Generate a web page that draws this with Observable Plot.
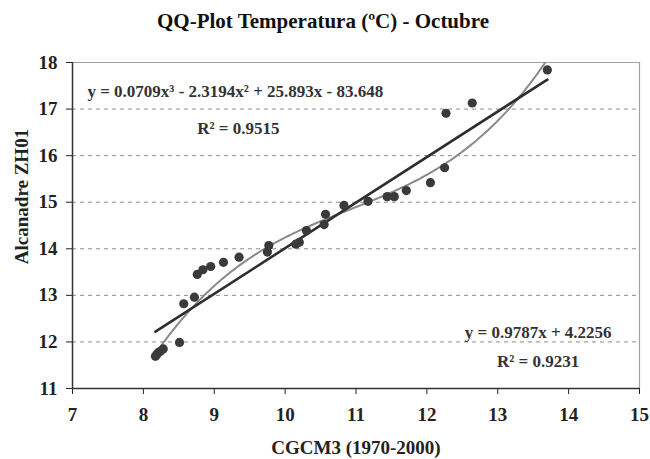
<!DOCTYPE html>
<html><head><meta charset="utf-8">
<script src="https://cdn.jsdelivr.net/npm/d3@7"></script>
<script src="https://cdn.jsdelivr.net/npm/@observablehq/plot@0.6"></script>
<style>
body{margin:0;background:#fff;}
#title{height:45px;box-sizing:border-box;padding-top:9px;padding-right:4px;text-align:center;font-family:'Liberation Serif','Times New Roman',serif;font-weight:bold;font-size:21px;color:#111;line-height:24px;}
</style></head><body>
<div id="title">QQ-Plot Temperatura (ºC) - Octubre</div>
<div id="chart"></div>
<script>
// Data
const modelX = [8.17, 8.19, 8.21, 8.24, 8.28, 8.51, 8.57, 8.72, 8.76, 8.84, 8.95, 9.13, 9.35, 9.75, 9.77, 10.15, 10.20, 10.30, 10.55, 10.57, 10.83, 11.17, 11.44, 11.54, 11.71, 12.05, 12.25, 12.27, 12.64, 13.70];
const obsY   = [11.69, 11.73, 11.77, 11.80, 11.85, 11.99, 12.82, 12.96, 13.45, 13.55, 13.62, 13.71, 13.82, 13.93, 14.07, 14.10, 14.14, 14.39, 14.52, 14.74, 14.93, 15.02, 15.12, 15.12, 15.25, 15.42, 15.74, 16.91, 17.13, 17.84];
const xTicks = [7, 8, 9, 10, 11, 12, 13, 14, 15];
const yTicks = [11, 12, 13, 14, 15, 16, 17, 18];
const gridY = [12, 13, 14, 15, 16, 17];
// Trendline coefficients shown on the chart
const linearCoef = [0.9787, 4.2256];               // slope, intercept
const cubicCoef = [0.0709, -2.3194, 25.893, -83.648]; // x^3, x^2, x, 1
const linearLabel = ["y = 0.9787x + 4.2256", "R² = 0.9231"];
const cubicLabel = ["y = 0.0709x³ - 2.3194x² + 25.893x - 83.648", "R² = 0.9515"];
const xTitle = "CGCM3 (1970-2000)";
const yTitle = "Alcanadre ZH01";

const points = modelX.map((x, i) => ({x, y: obsY[i]}));
const xmin = d3.min(modelX), xmax = d3.max(modelX);
const xs = d3.range(xmin, xmax + 0.001, 0.02);
const cubic = xs.map(x => ({x, y: ((cubicCoef[0]*x + cubicCoef[1])*x + cubicCoef[2])*x + cubicCoef[3]}));
const linear = [xmin, xmax].map(x => ({x, y: linearCoef[0]*x + linearCoef[1]}));

const serif = "'Liberation Serif','Times New Roman',serif";
const chart = Plot.plot({
  width: 650, height: 414,
  marginTop: 17, marginBottom: 71, marginLeft: 72, marginRight: 11,
  style: {fontFamily: serif, fontWeight: "bold", fontSize: "19px", color: "#222", background: "#fff", overflow: "visible"},
  x: {domain: [7, 15], ticks: xTicks, tickSize: 6, tickPadding: 13, label: null, tickFormat: d => String(d)},
  y: {domain: [11, 18], ticks: yTicks, tickSize: 6, tickPadding: 9, label: null, tickFormat: d => String(d)},
  marks: [
    Plot.ruleY(gridY, {stroke: "#8c8c8c", strokeDasharray: "4,4", strokeWidth: 1}),
    Plot.ruleY([18], {stroke: "#a0a0a0", strokeWidth: 1.2}),
    Plot.ruleX([15], {stroke: "#a0a0a0", strokeWidth: 1.2}),
    Plot.line(cubic, {x: "x", y: "y", stroke: "#8a8a8a", strokeWidth: 2, clip: true}),
    Plot.line(linear, {x: "x", y: "y", stroke: "#2e2e2e", strokeWidth: 2.6}),
    Plot.dot(points, {x: "x", y: "y", r: 4.6, fill: "#3a3a3a", stroke: "none"}),
    Plot.ruleX([7], {stroke: "#333", strokeWidth: 1.5}),
    Plot.ruleY([11], {stroke: "#333", strokeWidth: 1.5}),
    Plot.text([cubicLabel[0]], {x: 7.21, y: 17.25, text: d => d, textAnchor: "start", lineAnchor: "bottom", fontSize: 17, fill: "#333"}),
    Plot.text([cubicLabel[1]], {x: 9.34, y: 16.47, text: d => d, textAnchor: "middle", lineAnchor: "bottom", fontSize: 17, fill: "#333"}),
    Plot.text([linearLabel[0]], {x: 13.57, y: 12.08, text: d => d, textAnchor: "middle", lineAnchor: "bottom", fontSize: 17, fill: "#333"}),
    Plot.text([linearLabel[1]], {x: 13.57, y: 11.46, text: d => d, textAnchor: "middle", lineAnchor: "bottom", fontSize: 17, fill: "#333"}),
    Plot.text([yTitle], {frameAnchor: "left", text: d => d, dx: -51, dy: -29, rotate: -90, textAnchor: "middle", lineAnchor: "middle", fontSize: 19, fill: "#222"}),
    Plot.text([xTitle], {frameAnchor: "bottom", text: d => d, dy: 59, textAnchor: "middle", lineAnchor: "middle", fontSize: 19, fill: "#222"})
  ]
});
document.getElementById("chart").appendChild(chart);
</script>
</body></html>
